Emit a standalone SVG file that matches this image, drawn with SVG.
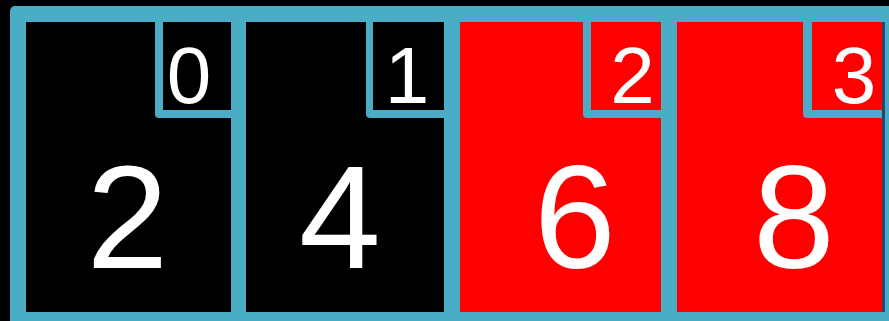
<svg xmlns="http://www.w3.org/2000/svg" width="889" height="321" viewBox="0 0 889 321">
  <style>
    .frame { fill: #4BACC6; }
    .black { fill: #000000; }
    .red { fill: #FF0000; }
    .tab { fill: #4BACC6; }
    .val { font-family: "Liberation Sans", Arial, sans-serif; font-size: 147px; fill: #FFFFFF; text-anchor: middle; }
    .idx { font-family: "Liberation Sans", Arial, sans-serif; font-size: 80px; fill: #FFFFFF; text-anchor: middle; }
  </style>
  <rect x="0" y="0" width="889" height="321" fill="#000000"/>
  <rect class="frame" x="10" y="6" width="900" height="340" rx="5"/>
  <g id="cell0">
    <rect class="black" x="26" y="22" width="205" height="290"/>
    <rect class="tab" x="155" y="14" width="80" height="104" rx="4"/>
    <rect class="black" x="163" y="22" width="68" height="88"/>
    <text class="idx" x="189" y="102.5">0</text>
    <text class="val" x="127.5" y="268">2</text>
  </g>
  <g id="cell1">
    <rect class="black" x="246" y="22" width="198" height="290"/>
    <rect class="tab" x="366" y="14" width="82" height="104" rx="4"/>
    <rect class="black" x="373" y="22" width="71" height="88"/>
    <text class="idx" x="407" y="102.5">1</text>
    <text class="val" x="340" y="268">4</text>
  </g>
  <g id="cell2">
    <rect class="red" x="460" y="22" width="201" height="290"/>
    <rect class="tab" x="583" y="14" width="82" height="104" rx="4"/>
    <rect class="red" x="591" y="22" width="70" height="88"/>
    <text class="idx" x="632.5" y="102.5">2</text>
    <text class="val" x="575" y="268">6</text>
  </g>
  <g id="cell3">
    <rect class="red" x="677" y="22" width="205" height="290"/>
    <rect class="tab" x="803" y="14" width="83" height="104" rx="4"/>
    <rect class="red" x="812" y="22" width="70" height="88"/>
    <text class="idx" x="854" y="102.5">3</text>
    <text class="val" x="794" y="268">8</text>
    <rect x="882" y="22" width="3" height="290" fill="#24496E"/>
  </g>
  <g id="connectors"/>
</svg>
